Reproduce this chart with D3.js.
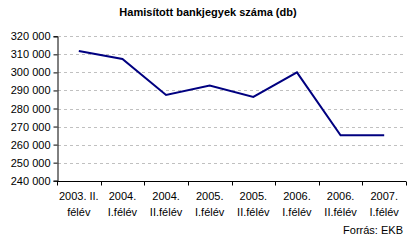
<!DOCTYPE html>
<html>
<head>
<meta charset="utf-8">
<script src="https://cdn.jsdelivr.net/npm/d3@7"></script>
<style>
  body { margin: 0; background: #fff; }
  text { font-family: "Liberation Sans", Arial, sans-serif; fill: #000; }
</style>
</head>
<body>
<div id="chart"></div>
<script>
const categories = [
  ["2003. II.", "félév"],
  ["2004.", "I.félév"],
  ["2004.", "II.félév"],
  ["2005.", "I.félév"],
  ["2005.", "II.félév"],
  ["2006.", "I.félév"],
  ["2006.", "II.félév"],
  ["2007.", "I.félév"]
];
const values = [311800, 307400, 287500, 292700, 286400, 300000, 265200, 265200];
const yTicks = [240000, 250000, 260000, 270000, 280000, 290000, 300000, 310000, 320000];

const width = 413, height = 243;
const plotLeft = 57, plotRight = 406, plotTop = 36.3, plotBottom = 180.7;

const svg = d3.select("#chart").append("svg")
  .attr("width", width)
  .attr("height", height);

const x = d3.scaleBand()
  .domain(d3.range(categories.length))
  .range([plotLeft, plotRight]);

const y = d3.scaleLinear()
  .domain([240000, 320000])
  .range([plotBottom, plotTop]);

const fmt = v => d3.format(",")(v).replace(/,/g, " ");

/* gridlines */
svg.append("g")
  .selectAll("line")
  .data(yTicks.filter(v => v > 240000))
  .enter().append("line")
  .attr("x1", plotLeft + 1).attr("x2", plotRight)
  .attr("y1", d => Math.round(y(d)) + 0.5)
  .attr("y2", d => Math.round(y(d)) + 0.5)
  .attr("stroke", "#c0c0c0")
  .attr("stroke-dasharray", "3,3");

/* y axis */
const yAxis = d3.axisLeft(y).tickValues(yTicks).tickSize(4).tickPadding(3).tickFormat(fmt);
const gy = svg.append("g")
  .attr("transform", `translate(${plotLeft + 0.5},0)`)
  .call(yAxis);
gy.select(".domain").attr("stroke", "#000");
gy.selectAll(".tick line").attr("stroke", "#000");
gy.selectAll("text").style("font-size", "11px").attr("font-family", null);
gy.attr("font-family", null);

/* x axis */
const gx = svg.append("g")
  .attr("transform", `translate(0,${Math.round(plotBottom) + 0.5})`);
gx.append("line")
  .attr("x1", plotLeft).attr("x2", plotRight)
  .attr("stroke", "#000");
gx.selectAll(".xt")
  .data(d3.range(categories.length + 1))
  .enter().append("line")
  .attr("class", "xt")
  .attr("x1", i => Math.round(plotLeft + i * x.step()) + 0.5)
  .attr("x2", i => Math.round(plotLeft + i * x.step()) + 0.5)
  .attr("y1", 0).attr("y2", 4)
  .attr("stroke", "#000");

const labels = svg.append("g")
  .selectAll("text")
  .data(categories)
  .enter().append("text")
  .attr("text-anchor", "middle")
  .style("font-size", "11px")
  .attr("x", (d, i) => x(i) + x.bandwidth() / 2);
labels.append("tspan")
  .attr("x", (d, i) => x(i) + x.bandwidth() / 2)
  .attr("y", 200)
  .text(d => d[0]);
labels.append("tspan")
  .attr("x", (d, i) => x(i) + x.bandwidth() / 2)
  .attr("y", 216)
  .text(d => d[1]);

/* line */
const line = d3.line()
  .x((d, i) => x(i) + x.bandwidth() / 2)
  .y(d => y(d));

svg.append("path")
  .datum(values)
  .attr("d", line)
  .attr("fill", "none")
  .attr("stroke", "#000080")
  .attr("stroke-width", 2);

/* title and source */
svg.append("text")
  .attr("x", 208).attr("y", 16)
  .attr("text-anchor", "middle")
  .style("font-size", "11px")
  .style("font-weight", "bold")
  .text("Hamisított bankjegyek száma (db)");

svg.append("text")
  .attr("x", 403).attr("y", 234)
  .attr("text-anchor", "end")
  .style("font-size", "11px")
  .text("Forrás: EKB");
</script>
</body>
</html>
